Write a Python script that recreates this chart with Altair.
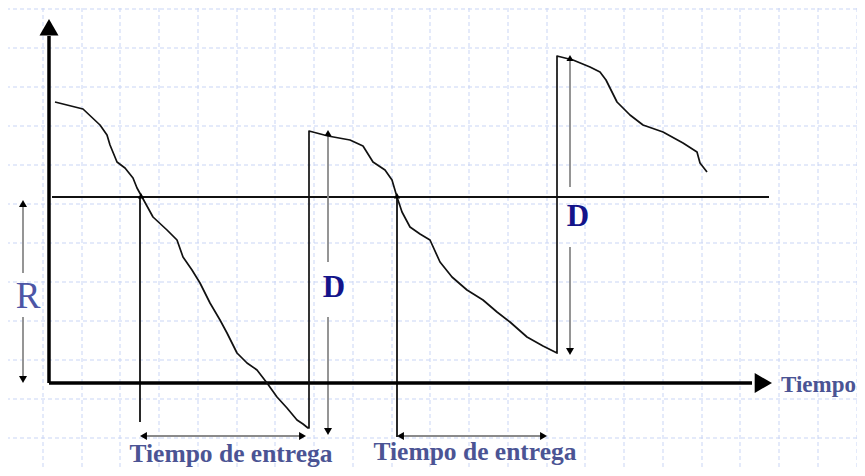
import math
import altair as alt
import pandas as pd

# ---- scale ranges (time units / inventory units) ----
X_DOMAIN = [-41, 808]
Y_DOMAIN = [-85, 375]

# ---- background grid ----
grid_t = [-6, 33, 71, 110, 149, 188, 226, 265, 304, 343, 381, 420, 459,
          498, 536, 575, 614, 653, 691, 730, 769, 808]
grid_inv = [374, 335, 296, 257, 218, 179, 140, 101, 62, 23, -16, -55]

# ---- inventory level curve (three cycles with replenishment jumps) ----
cycle1_t = [6, 34, 51, 58, 61, 68, 76, 84, 88, 93, 104, 118, 128, 134, 143,
            151, 161, 171, 178, 188, 198, 208, 218, 228, 238, 248, 254, 259]
cycle1_inv = [281, 274, 258, 248, 238, 221, 215, 205, 195, 186, 166, 153, 143,
              126, 113, 100, 80, 63, 50, 30, 20, 13, 0, -14, -25, -37, -41, -45]
cycle2_t = [260, 260, 279, 301, 314, 324, 336, 343, 348, 353, 361, 371, 381,
            391, 403, 418, 434, 448, 461, 478, 494, 508]
cycle2_inv = [-45, 252, 247, 243, 237, 221, 213, 203, 186, 171, 156, 149, 143,
              121, 106, 93, 83, 71, 61, 46, 37, 30]
cycle3_t = [508, 508, 524, 541, 551, 557, 561, 568, 581, 594, 614, 634, 648,
            651, 658]
cycle3_inv = [30, 327, 323, 316, 311, 303, 295, 281, 268, 258, 251, 240, 231,
              220, 211]

# ---- straight segments ----
axis_seg = {"t": [0, 0], "inv": [0, 0], "t2": [0, 703], "inv2": [347, 0]}
thin_seg = {"t": [3, 91, 348], "inv": [186, 186, 186],
            "t2": [720, 91, 348], "inv2": [186, -39, -54]}
gray_seg = {"t": [279, 279, 521, 521, -26, -26, 97, 354],
            "inv": [248, 66, 323, 136, 178, 66, -53, -53],
            "t2": [279, 279, 521, 521, -26, -26, 251, 492],
            "inv2": [121, -46, 196, 34, 110, 6, -53, -53]}

# ---- arrow heads (tip positions) ----
head_t = [0, 723, -26, -26, 279, 279, 521, 521, 91, 257, 348, 498, 92, 348]
head_inv = [364, 0, 183, 0, 253, -52, 328, 28, -53, -53, -53, -53, 190, 190]
head_dir = ["up", "right", "up", "down", "up", "down", "up", "down",
            "left", "right", "left", "right", "up", "up"]
head_size = [361, 400, 64, 64, 50, 64, 50, 64, 64, 64, 64, 64, 40, 40]

# ---- labels ----
lead_label_t = [182, 426]
lead_label_inv = [-79, -77]
lead_label_text = ["Tiempo de entrega", "Tiempo de entrega"]
d_label_t = [285, 529]
d_label_inv = [86, 157]
d_label_text = ["D", "D"]
r_label = {"t": [-21], "inv": [75], "text": ["R"]}
time_label = {"t": [732], "inv": [-9], "text": ["Tiempo"]}

# ---------------------------------------------------------------
xs = alt.Scale(domain=X_DOMAIN, nice=False, zero=False)
ys = alt.Scale(domain=Y_DOMAIN, nice=False, zero=False)
X = lambda f="t": alt.X(f + ":Q", scale=xs, axis=None)
Y = lambda f="inv": alt.Y(f + ":Q", scale=ys, axis=None)

vgrid = alt.Chart(pd.DataFrame({"t": grid_t})).mark_rule(
    color="#c9d5f5", strokeWidth=1, strokeDash=[4, 3]
).encode(x=X())
hgrid = alt.Chart(pd.DataFrame({"inv": grid_inv})).mark_rule(
    color="#c9d5f5", strokeWidth=1, strokeDash=[4, 3]
).encode(y=Y())

curve_df = pd.DataFrame({
    "t": cycle1_t + cycle2_t + cycle3_t,
    "inv": cycle1_inv + cycle2_inv + cycle3_inv,
})
curve_df["order"] = range(len(curve_df))
curve = alt.Chart(curve_df).mark_line(
    color="#111111", strokeWidth=1.7, strokeJoin="round"
).encode(x=X(), y=Y(), order="order:Q")


def seg_layer(d, color, width):
    return alt.Chart(pd.DataFrame(d)).mark_rule(
        color=color, strokeWidth=width
    ).encode(x=X(), y=Y(), x2="t2:Q", y2="inv2:Q")


axes = seg_layer(axis_seg, "#000000", 3.5)
thin = seg_layer(thin_seg, "#111111", 1.8)
gray = seg_layer(gray_seg, "#8a8a8a", 1.8)

# arrow heads: move symbol centre back from the tip
heads = pd.DataFrame({"t": head_t, "inv": head_inv, "dir": head_dir,
                      "size": head_size})
off = 0.433 * heads["size"].apply(math.sqrt)
heads["tc"] = heads["t"] - off * (heads["dir"] == "right") + off * (heads["dir"] == "left")
heads["ic"] = heads["inv"] - off * (heads["dir"] == "up") + off * (heads["dir"] == "down")
heads["shape"] = "triangle-" + heads["dir"]
head_layer = alt.Chart(heads).mark_point(
    filled=True, color="#000000", opacity=1, strokeWidth=0
).encode(
    x=X("tc"), y=Y("ic"),
    shape=alt.Shape("shape:N", scale=None),
    size=alt.Size("size:Q", scale=None),
)

lead_text = alt.Chart(pd.DataFrame({
    "t": lead_label_t, "inv": lead_label_inv, "text": lead_label_text
})).mark_text(
    font="Liberation Serif", fontSize=25.5, fontWeight="bold",
    color="#4b5494", align="center", baseline="alphabetic"
).encode(x=X(), y=Y(), text="text:N")

time_text = alt.Chart(pd.DataFrame(time_label)).mark_text(
    font="Liberation Serif", fontSize=23, fontWeight="bold",
    color="#4b5494", align="left", baseline="alphabetic"
).encode(x=X(), y=Y(), text="text:N")

d_text = alt.Chart(pd.DataFrame({
    "t": d_label_t, "inv": d_label_inv, "text": d_label_text
})).mark_text(
    font="Liberation Serif", fontSize=31, fontWeight="bold",
    color="#14148a", align="center", baseline="alphabetic"
).encode(x=X(), y=Y(), text="text:N")

r_text = alt.Chart(pd.DataFrame(r_label)).mark_text(
    font="Liberation Serif", fontSize=37, fontWeight="normal",
    color="#4d56a6", align="center", baseline="alphabetic"
).encode(x=X(), y=Y(), text="text:N")

chart = alt.layer(
    vgrid, hgrid, thin, gray, axes, curve, head_layer,
    lead_text, time_text, d_text, r_text
).properties(
    width=849, height=460,
    padding=0,
    autosize=alt.AutoSizeParams(type="none"),
    background="#ffffff",
).configure_view(strokeWidth=0)

chart.save("out.html", embed_options={"renderer": "svg", "actions": False})
